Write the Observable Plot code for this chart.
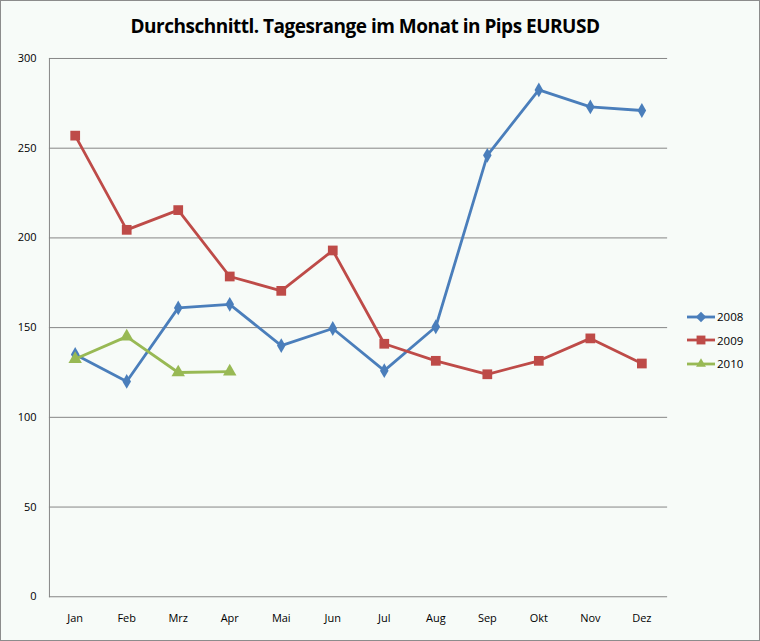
<!DOCTYPE html>
<html><head><meta charset="utf-8">
<script src="https://cdn.jsdelivr.net/npm/d3@7"></script>
<script src="https://cdn.jsdelivr.net/npm/@observablehq/plot@0.6"></script>
<style>
html,body{margin:0;padding:0;background:#fff;}
#wrap{position:relative;width:758px;height:639px;border:1px solid #8c8c8c;background:#f7fbf8;font-family:"Open Sans",sans-serif;}
#title{position:absolute;left:0;top:12px;width:728px;text-align:center;font-weight:bold;font-size:19px;color:#000;letter-spacing:-0.5px;}
#chart{position:absolute;left:-1px;top:44px;}
#legend{position:absolute;left:686px;top:304px;font-size:11.5px;color:#000;}
.item{display:flex;align-items:center;height:23.5px;}
.item svg{margin-right:1px;}
</style></head>
<body><div id="wrap"><div id="title">Durchschnittl. Tagesrange im Monat in Pips EURUSD</div><div id="chart"></div><div id="legend"></div></div>
<script>
const months = ["Jan","Feb","Mrz","Apr","Mai","Jun","Jul","Aug","Sep","Okt","Nov","Dez"];
const years = ["2008","2009","2010"];
const v2008 = [135,120,161,163,140,149.5,126,150.5,246,282.5,273,271];
const v2009 = [257,204.5,215.5,178.5,170.5,193,141,131.5,124,131.5,144,130];
const v2010 = [132.5,145,125,125.5];
const yTicks = [0,50,100,150,200,250,300];
const colors = ["#4a7ebb","#be4b48","#98b954"];
const symbols = ["diamond","square","triangle"];
const sizes = [4.5,5.5,5];

const series = [v2008,v2009,v2010];
const data = [];
series.forEach((arr,i)=>arr.forEach((v,j)=>data.push({year:years[i],month:months[j],value:v})));

const marks = [
  Plot.ruleY(yTicks,{stroke:"#868686",strokeWidth:1}),
  Plot.frame({anchor:"left",stroke:"#868686"}),
  Plot.axisY({ticks:yTicks,tickSize:0,tickPadding:13,fontSize:11,tickFormat:d=>d,label:null}),
  Plot.axisX({tickSize:0,tickPadding:17,fontSize:11,label:null})
];
years.forEach((y,i)=>{
  const d = data.filter(r=>r.year===y);
  marks.push(Plot.line(d,{x:"month",y:"value",stroke:colors[i],strokeWidth:2.8}));
  marks.push(Plot.dot(d,{x:"month",y:"value",fill:colors[i],stroke:null,symbol:symbols[i],r:sizes[i]}));
});

const chart = Plot.plot({
  width:760,height:599,
  marginLeft:49,marginRight:92,marginTop:13,marginBottom:47,
  style:{background:"transparent",fontFamily:"'Open Sans',sans-serif",color:"#000"},
  x:{type:"point",domain:months,padding:0.5,round:false},
  y:{domain:[0,300]},
  marks
});
document.getElementById("chart").appendChild(chart);

const leg = document.getElementById("legend");
years.forEach((y,i)=>{
  const div=document.createElement("div");div.className="item";
  const sym = d3.symbol().type(i===0?d3.symbolDiamond2:(i===1?d3.symbolSquare2:d3.symbolTriangle2)).size(i===1?100:70)();
  div.innerHTML=`<svg width="29" height="14"><line x1="0" x2="28" y1="7" y2="7" stroke="${colors[i]}" stroke-width="2.8"/><path d="${sym}" transform="translate(14,7)" fill="${colors[i]}"/></svg><span>${y}</span>`;
  leg.appendChild(div);
});
</script></body></html>
